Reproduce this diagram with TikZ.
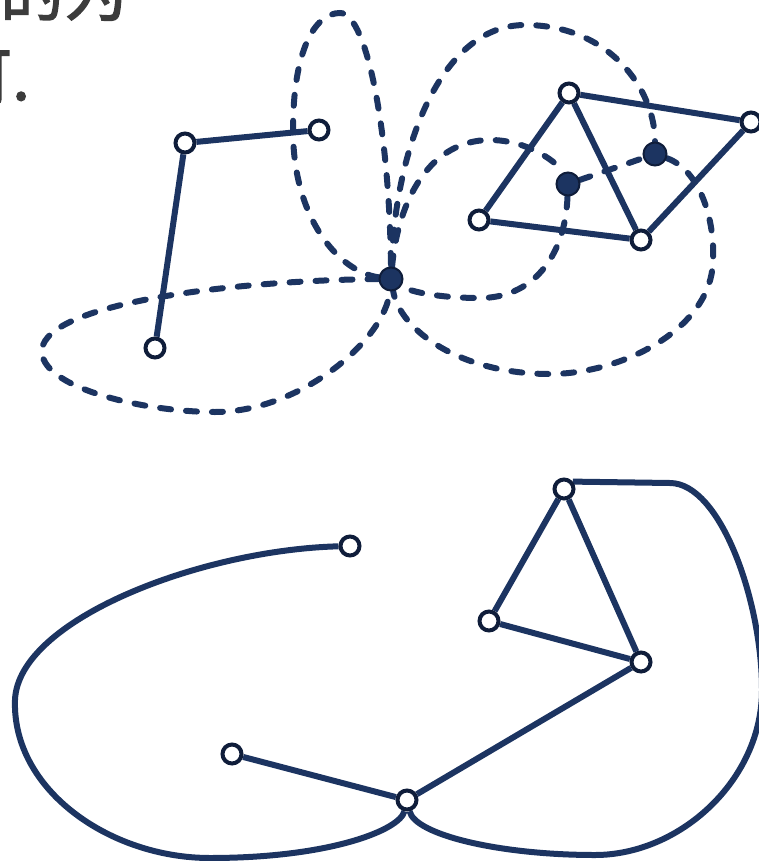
\documentclass[tikz,border=0pt]{standalone}
\usepackage{fontspec}
\newfontfamily\cjk{Noto Sans CJK SC}[FakeBold=2]
\definecolor{edgec}{HTML}{1C3461}
\definecolor{rimc}{HTML}{0F1D3A}
\definecolor{txtc}{HTML}{3C3C3C}
\pgfdeclarelayer{bg}
\pgfsetlayers{bg,main}
\begin{document}
\begin{tikzpicture}[x=1pt,y=-1pt,
  vtx/.style={circle,draw=rimc,fill=white,line width=4pt,minimum size=19pt,inner sep=0pt},
  dvtx/.style={circle,draw=rimc,fill=edgec,line width=2pt,minimum size=23pt,inner sep=0pt},
  solidedge/.style={draw=edgec,line width=6pt},
  dualedge/.style={draw=edgec,line width=6pt,line cap=round,dash pattern=on 11pt off 15pt},
  txt/.style={font=\cjk\fontsize{64}{64}\selectfont,text=txtc,anchor=base west,inner sep=0pt}]
\useasboundingbox (0,0) rectangle (759,861);
% cropped text
\node[txt] (t1) at (0,16) {的为};
\node[txt] (t2) at (-52,100) {可.};
% top primal graph
\node[vtx] (A) at (185,143) {};
\node[vtx] (B) at (319,130) {};
\node[vtx] (C) at (155,348) {};
\node[vtx] (D) at (569,93) {};
\node[vtx] (E) at (751,122) {};
\node[vtx] (F) at (641,240) {};
\node[vtx] (G) at (479,220) {};
% dual vertices
\node[dvtx] (P) at (391,279) {};
\node[dvtx] (Q) at (568,184) {};
\node[dvtx] (R) at (655,154) {};
% bottom graph
\node[vtx] (H) at (350,546) {};
\node[vtx] (I) at (564,489) {};
\node[vtx] (J) at (489,621) {};
\node[vtx] (K) at (641,662) {};
\node[vtx] (L) at (232,754) {};
\node[vtx] (M) at (407,800) {};
\begin{pgfonlayer}{bg}
  % primal edges
  \draw[solidedge] (A) -- (B);
  \draw[solidedge] (A) -- (C);
  \draw[solidedge] (D) -- (E);
  \draw[solidedge] (E) -- (F);
  \draw[solidedge] (D) -- (F);
  \draw[solidedge] (D) -- (G);
  \draw[solidedge] (G) -- (F);
  % dual edges
  \draw[dualedge] (P) .. controls (250,280) and (60,300) .. (43,345)
     .. controls (30,385) and (140,412) .. (215,412)
     .. controls (300,412) and (385,340) .. (P);
  \draw[dualedge] (P) .. controls (340,272) and (293,220) .. (293,130)
     .. controls (293,50) and (315,13) .. (340,13)
     .. controls (368,13) and (390,140) .. (P);
  \draw[dualedge] (P) .. controls (398,200) and (430,140) .. (490,140)
     .. controls (530,140) and (560,165) .. (Q);
  \draw[dualedge] (Q) .. controls (565,260) and (530,298) .. (480,298)
     .. controls (440,298) and (410,292) .. (P);
  \draw[dualedge] (Q) -- (R);
  \draw[dualedge] (P) .. controls (395,150) and (440,25) .. (525,25)
     .. controls (610,25) and (655,90) .. (R);
  \draw[dualedge] (R) .. controls (700,170) and (715,220) .. (713,260)
     .. controls (712,330) and (620,374) .. (550,374)
     .. controls (460,374) and (400,330) .. (P);
  % bottom graph edges
  \draw[solidedge] (I) -- (J);
  \draw[solidedge] (I) -- (K);
  \draw[solidedge] (J) -- (K);
  \draw[solidedge] (K) -- (M);
  \draw[solidedge] (L) -- (M);
  \draw[solidedge] (H) .. controls (200,550) and (18,620) .. (15,700)
     .. controls (12,790) and (110,858) .. (210,858)
     .. controls (330,858) and (400,830) .. (M);
  \draw[solidedge] (I.40) -- (670,483)
     .. controls (720,483) and (762,600) .. (762,690)
     .. controls (762,780) and (680,855) .. (595,855)
     .. controls (500,855) and (415,835) .. (M);
\end{pgfonlayer}
\end{tikzpicture}
\end{document}
